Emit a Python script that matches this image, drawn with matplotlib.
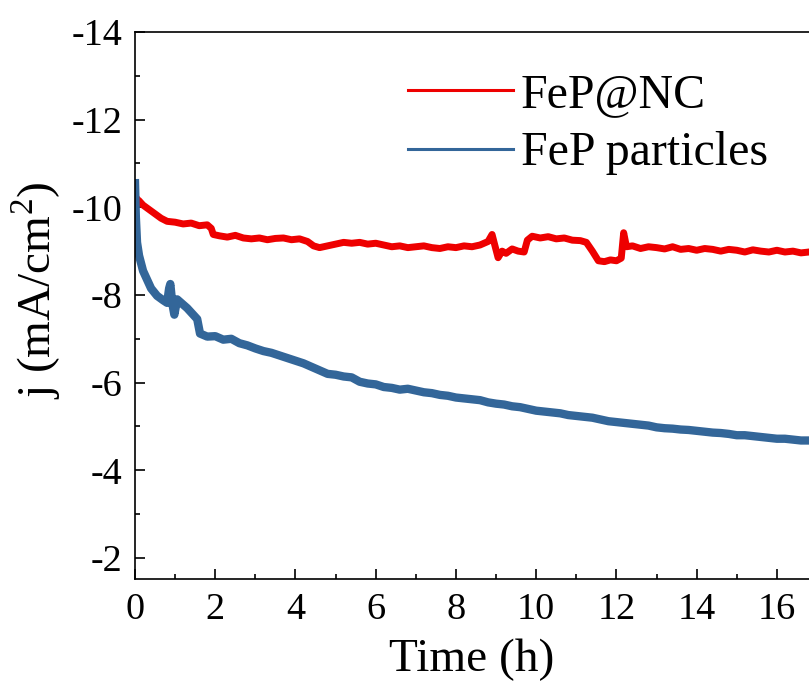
import matplotlib
matplotlib.use("Agg")
from matplotlib import pyplot as plt
from matplotlib.lines import Line2D
from matplotlib.ticker import MultipleLocator

# FeP@NC chronoamperometry (time in h, j in mA/cm2)
t_nc = [0, 0.03, 0.1, 0.2, 0.35, 0.5, 0.65, 0.8, 1.0, 1.2, 1.4, 1.6, 1.8, 1.9, 1.95,
        2.1, 2.3, 2.5, 2.7, 2.9, 3.1, 3.3, 3.5, 3.7, 3.9, 4.1, 4.3, 4.45, 4.6, 4.8,
        5.0, 5.2, 5.4, 5.6, 5.8, 6.0, 6.2, 6.4, 6.6, 6.8, 7.0, 7.2, 7.4, 7.6, 7.8,
        8.0, 8.2, 8.4, 8.6, 8.8, 8.9, 8.95, 9.05, 9.15, 9.25, 9.4, 9.55, 9.7, 9.78,
        9.9, 10.1, 10.3, 10.5, 10.7, 10.9, 11.1, 11.25, 11.4, 11.55, 11.7, 11.85,
        12.0, 12.12, 12.18, 12.25, 12.4, 12.6, 12.8, 13.0, 13.2, 13.4, 13.6, 13.8,
        14.0, 14.2, 14.4, 14.6, 14.8, 15.0, 15.2, 15.4, 15.6, 15.8, 16.0, 16.2,
        16.4, 16.6, 16.8]
j_nc = [-10.3, -10.2, -10.15, -10.05, -9.95, -9.85, -9.75, -9.68, -9.66, -9.62,
        -9.64, -9.58, -9.6, -9.52, -9.38, -9.35, -9.32, -9.36, -9.3, -9.28, -9.3,
        -9.26, -9.29, -9.3, -9.26, -9.28, -9.22, -9.12, -9.08, -9.12, -9.16, -9.2,
        -9.18, -9.2, -9.16, -9.18, -9.14, -9.1, -9.12, -9.08, -9.1, -9.12, -9.08,
        -9.06, -9.1, -9.08, -9.12, -9.1, -9.14, -9.22, -9.38, -9.2, -8.85, -9.0,
        -8.95, -9.05, -9.0, -8.98, -9.25, -9.34, -9.3, -9.33, -9.28, -9.3, -9.25,
        -9.24, -9.2, -9.0, -8.78, -8.76, -8.8, -8.78, -8.84, -9.42, -9.1, -9.12,
        -9.06, -9.1, -9.08, -9.05, -9.1, -9.04, -9.06, -9.02, -9.06, -9.04, -9.0,
        -9.04, -9.02, -8.98, -9.03, -9.0, -8.98, -9.02, -8.98, -9.0, -8.96, -8.98]

# FeP particles
t_p = [0, 0.02, 0.05, 0.1, 0.2, 0.3, 0.4, 0.55, 0.7, 0.8, 0.85, 0.88, 0.93, 0.98,
       1.05, 1.15, 1.3, 1.45, 1.55, 1.62, 1.8, 2.0, 2.2, 2.4, 2.6, 2.8, 3.0, 3.2,
       3.4, 3.6, 3.8, 4.0, 4.2, 4.4, 4.6, 4.8, 5.0, 5.2, 5.4, 5.6, 5.8, 6.0, 6.2,
       6.4, 6.6, 6.8, 7.0, 7.2, 7.4, 7.6, 7.8, 8.0, 8.2, 8.4, 8.6, 8.8, 9.0, 9.2,
       9.4, 9.6, 9.8, 10.0, 10.2, 10.4, 10.6, 10.8, 11.0, 11.2, 11.4, 11.6, 11.8,
       12.0, 12.2, 12.4, 12.6, 12.8, 13.0, 13.2, 13.4, 13.6, 13.8, 14.0, 14.2,
       14.4, 14.6, 14.8, 15.0, 15.2, 15.4, 15.6, 15.8, 16.0, 16.2, 16.4, 16.6, 16.8]
j_p = [-10.55, -9.8, -9.2, -8.9, -8.55, -8.35, -8.15, -7.98, -7.88, -7.82, -8.15,
       -8.25, -7.8, -7.55, -7.9, -7.82, -7.7, -7.55, -7.45, -7.12, -7.05, -7.06,
       -6.98, -7.0, -6.9, -6.85, -6.78, -6.72, -6.68, -6.62, -6.56, -6.5, -6.44,
       -6.36, -6.28, -6.2, -6.18, -6.14, -6.12, -6.02, -5.98, -5.96, -5.9, -5.88,
       -5.84, -5.86, -5.82, -5.78, -5.76, -5.72, -5.7, -5.66, -5.64, -5.62, -5.6,
       -5.55, -5.52, -5.5, -5.46, -5.44, -5.4, -5.36, -5.34, -5.32, -5.3, -5.26,
       -5.24, -5.22, -5.2, -5.16, -5.12, -5.1, -5.08, -5.06, -5.04, -5.02, -4.98,
       -4.96, -4.95, -4.93, -4.92, -4.9, -4.88, -4.86, -4.85, -4.83, -4.8, -4.8,
       -4.78, -4.76, -4.74, -4.72, -4.72, -4.7, -4.68, -4.68]

labels = ["FeP@NC", "FeP particles"]
red = "#ee0000"
blue = "#336699"

plt.rcParams["font.family"] = ["Liberation Serif", "DejaVu Serif"]
plt.rcParams["mathtext.fontset"] = "custom"
plt.rcParams["mathtext.rm"] = "Liberation Serif"
plt.rcParams["axes.unicode_minus"] = False

fig = plt.figure(figsize=(8.09, 6.92), dpi=100)
ax = fig.add_axes([0.1669, 0.1633, 0.8331, 0.7905])

ax.plot(t_nc, j_nc, color=red, lw=5, solid_joinstyle="round")
ax.plot(t_p, j_p, color=blue, lw=6, solid_joinstyle="round")

ax.set_xlim(0, 16.8)
ax.set_ylim(-1.52, -14)
ax.xaxis.set_major_locator(MultipleLocator(2))
ax.xaxis.set_minor_locator(MultipleLocator(1))
ax.yaxis.set_major_locator(MultipleLocator(2))
ax.yaxis.set_minor_locator(MultipleLocator(1))
ax.tick_params(which="both", direction="in", top=False, right=False,
               width=1.2, labelsize=27.5)
ax.tick_params(axis="x", pad=10)
ax.tick_params(axis="y", pad=9)
ax.tick_params(which="major", length=7)
ax.tick_params(which="minor", length=3.6)
ax.spines["right"].set_visible(False)
for s in ["left", "bottom", "top"]:
    ax.spines[s].set_linewidth(1.2)

ax.set_xlabel("Time (h)", fontsize=34, labelpad=8)
ax.set_ylabel("j (mA/cm$^2$)", fontsize=34)
ax.yaxis.set_label_coords(-0.107, 0.528)

handles = [Line2D([], [], color=red, lw=2.2), Line2D([], [], color=blue, lw=2.2)]
ax.legend(handles, labels, loc="upper left", bbox_to_anchor=(0.405, 0.925),
          frameon=False, fontsize=34.5, handlelength=2.2, handletextpad=0.15,
          labelspacing=0.3, borderpad=0, borderaxespad=0)

fig.savefig("out.png", dpi=100)
